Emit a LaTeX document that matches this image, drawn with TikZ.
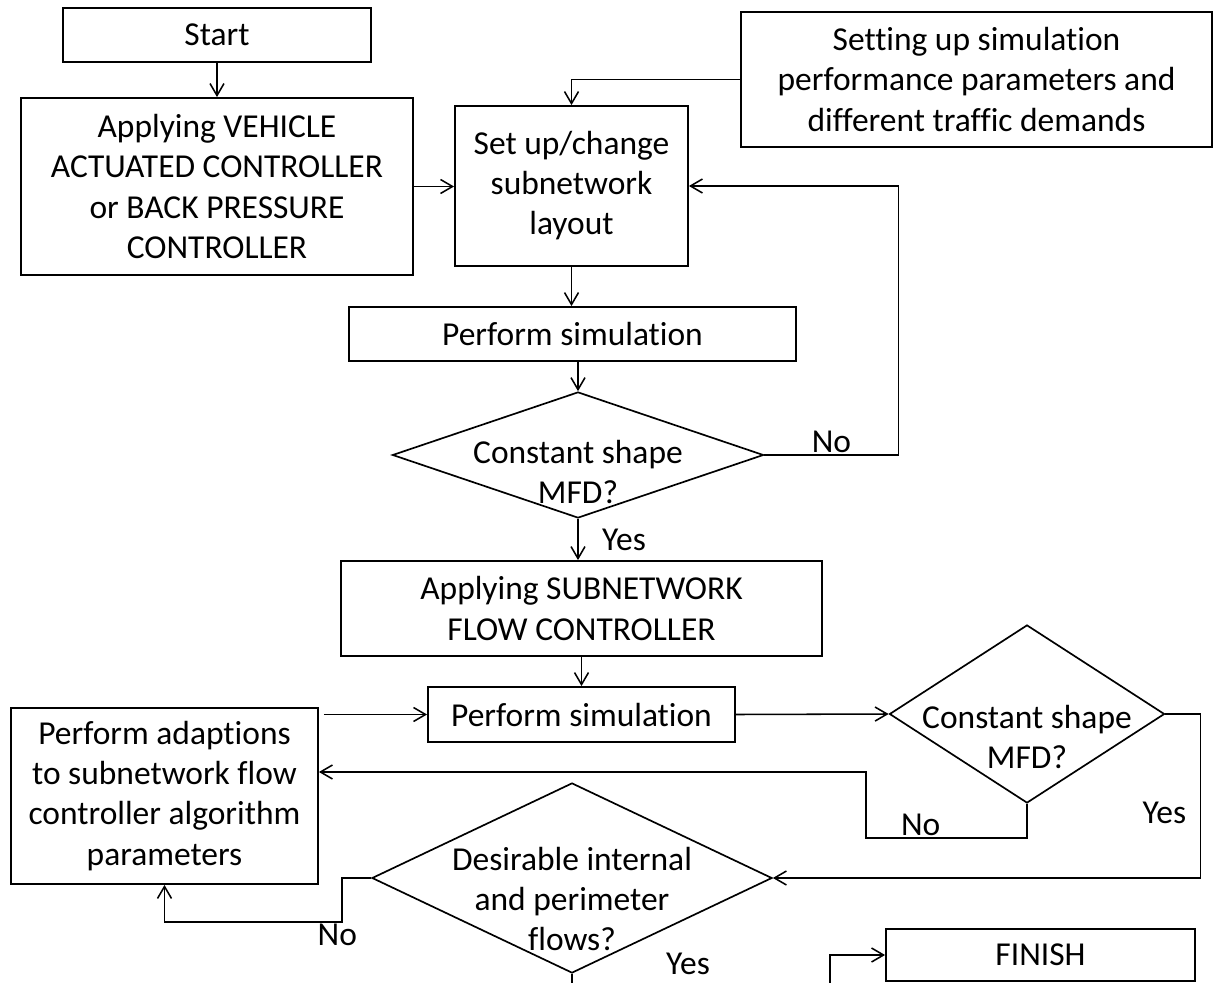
\documentclass[tikz,border=0pt]{standalone}
\usepackage{fontspec}
\setmainfont{Carlito}[Ligatures=NoCommon]
\usetikzlibrary{arrows.meta,positioning,shapes.geometric,calc}

\begin{document}
\begin{tikzpicture}[
  x=0.025cm, y=-0.025cm,
  font=\fontsize{23.8}{28.5}\selectfont,
  box/.style={draw, line width=1.3pt, align=center, inner sep=2pt},
  decision/.style={draw, diamond, line width=1.2pt, inner sep=0pt},
  dtext/.style={align=center, inner sep=0pt},
  lbl/.style={inner sep=1pt},
  arrow/.style={-{Straight Barb[length=3mm, width=3.5mm]}, line width=1.1pt}
]
\useasboundingbox (0,0) rectangle (1214,983);
\clip (0,0) rectangle (1214,983);

\node[box, minimum width=7.7cm, minimum height=1.35cm] (start) at (217,35) {Start};
\node[box, minimum width=9.8cm, minimum height=4.425cm] (vehicle) at (217,186.5) {Applying VEHICLE\\ACTUATED CONTROLLER\\or BACK PRESSURE\\CONTROLLER};
\node[box, minimum width=5.825cm, minimum height=4cm] (setup) at (571.5,186) {Set up/change\\subnetwork\\layout};
\node[box, minimum width=11.775cm, minimum height=3.375cm] (params) at (976.5,79.5) {Setting up simulation\\performance parameters and\\different traffic demands};
\node[box, minimum width=11.175cm, minimum height=1.35cm] (sim1) at (572.5,334) {Perform simulation};
\node[decision, minimum width=9.275cm, minimum height=3.15cm] (d1) at (578,455) {};
\node[dtext] (d1txt) at ([yshift=-0.43cm]d1.center) {Constant shape\\MFD?};
\node[box, minimum width=12.025cm, minimum height=2.375cm] (sub) at (581.5,608.5) {Applying SUBNETWORK\\FLOW CONTROLLER};
\node[box, minimum width=7.675cm, minimum height=1.375cm] (sim2) at (581.5,714.5) {Perform simulation};
\node[decision, minimum width=6.875cm, minimum height=4.45cm] (d2) at (1027,714) {};
\node[dtext] (d2txt) at ([yshift=-0.57cm]d2.center) {Constant shape\\MFD?};
\node[box, minimum width=7.675cm, minimum height=4.4cm] (adapt) at (164.5,796) {Perform adaptions\\to subnetwork flow\\controller algorithm\\parameters};
\node[decision, minimum width=10cm, minimum height=4.75cm] (d3) at (572,878) {};
\node[dtext] (d3txt) at ([yshift=-0.52cm]d3.center) {Desirable internal\\and perimeter\\flows?};
\node[box, minimum width=7.725cm, minimum height=1.3cm] (finish) at (1040.5,955) {FINISH};
\node[lbl] (yes3) at (688,964) {Yes};
\coordinate (turn) at (830,1010);

% upper part
\draw[arrow] (start) -- (vehicle);
\draw[arrow] (vehicle.east) -- (vehicle.east -| setup.west);
\draw[arrow] (params.west) -| (setup.north);
\draw[arrow] (setup.south) -- (setup.south |- sim1.north);
\draw[arrow] (d1.north |- sim1.south) -- (d1.north);
\draw[arrow] (d1.east) -- node[lbl, above] (no1) {No} ++(134,0) |- (setup.east);
\draw[arrow] (d1.south) -- node[lbl, right=0.55cm] (yes1) {Yes} (d1.south |- sub.north);

% lower part
\draw[arrow] (sub) -- (sim2);
\draw[arrow] (sim2.east) -- (d2.west);
\draw[arrow] (d2.east) -- ++(35,0) |- node[lbl, left=0.3cm, pos=0.3] (yes2) {Yes} (d3.east);
\draw[arrow] (d2.south) |- node[lbl, above, pos=0.83] (no2) {No} ++(-161,34) |- ([yshift=0.6cm]adapt.east);
\draw[arrow, shorten <=1.2mm] (adapt.east |- sim2.west) -- (sim2.west);
\draw[arrow] (d3.west) -- ++(-29,0) -- ++(0,44) node[lbl, below, xshift=-0.12cm] (no3) {No} -| (adapt.south);
\draw[arrow] (d3.south) |- (turn) |- (finish.west);
\end{tikzpicture}
\end{document}
